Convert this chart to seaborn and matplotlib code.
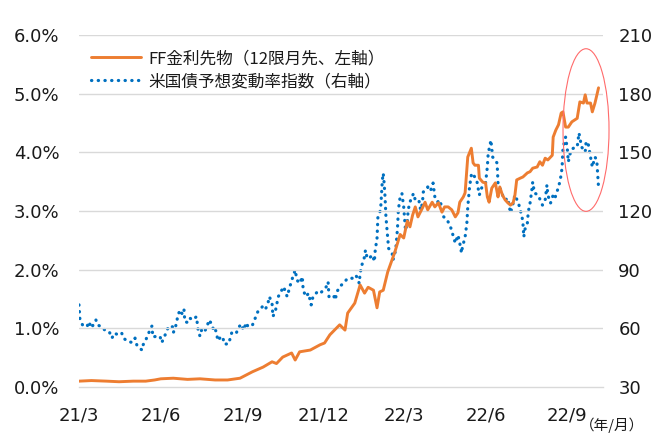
import pandas as pd
import matplotlib
matplotlib.use("Agg")
import matplotlib.pyplot as plt
from matplotlib.patches import Ellipse
from matplotlib.lines import Line2D
import seaborn as sns

# FF金利先物（12限月先） %, left axis
ff_dates = [
    "2021-03-01", "2021-03-15", "2021-04-01", "2021-04-15", "2021-05-01", "2021-05-15",
    "2021-05-25", "2021-06-01", "2021-06-15", "2021-07-01", "2021-07-15", "2021-08-01",
    "2021-08-15", "2021-08-29", "2021-09-12", "2021-09-24", "2021-10-04", "2021-10-09",
    "2021-10-16", "2021-10-26", "2021-10-30", "2021-11-04", "2021-11-16", "2021-11-27",
    "2021-12-02", "2021-12-08", "2021-12-19", "2021-12-25", "2021-12-28", "2022-01-05",
    "2022-01-11", "2022-01-16", "2022-01-20", "2022-01-26", "2022-01-30", "2022-02-02",
    "2022-02-06", "2022-02-11", "2022-02-19", "2022-02-25", "2022-03-01", "2022-03-05",
    "2022-03-08", "2022-03-11", "2022-03-14", "2022-03-17", "2022-03-22", "2022-03-25",
    "2022-03-28", "2022-04-02", "2022-04-05", "2022-04-09", "2022-04-13", "2022-04-16",
    "2022-04-20", "2022-04-24", "2022-04-28", "2022-05-01", "2022-05-03", "2022-05-07",
    "2022-05-09", "2022-05-12", "2022-05-16", "2022-05-18", "2022-05-20", "2022-05-24",
    "2022-05-25", "2022-05-29", "2022-06-01", "2022-06-03", "2022-06-05", "2022-06-08",
    "2022-06-12", "2022-06-14", "2022-06-15", "2022-06-17", "2022-06-20", "2022-06-23",
    "2022-06-26", "2022-06-29", "2022-07-02", "2022-07-04", "2022-07-06", "2022-07-10",
    "2022-07-13", "2022-07-18", "2022-07-21", "2022-07-24", "2022-07-29", "2022-08-01",
    "2022-08-04", "2022-08-07", "2022-08-10", "2022-08-15", "2022-08-16", "2022-08-19",
    "2022-08-22", "2022-08-25", "2022-08-27", "2022-08-30", "2022-09-02", "2022-09-06",
    "2022-09-12", "2022-09-15", "2022-09-19", "2022-09-21", "2022-09-23", "2022-09-27",
    "2022-09-29", "2022-10-02", "2022-10-06",
]
ff_values = [
    0.10, 0.11, 0.10, 0.09, 0.10, 0.10,
    0.12, 0.14, 0.15, 0.13, 0.14, 0.12,
    0.12, 0.15, 0.26, 0.34, 0.43, 0.40,
    0.51, 0.58, 0.46, 0.60, 0.63, 0.72,
    0.75, 0.89, 1.06, 0.97, 1.26, 1.43,
    1.74, 1.60, 1.70, 1.65, 1.35, 1.62,
    1.65, 1.96, 2.30, 2.60, 2.54, 2.83,
    2.73, 2.93, 3.07, 2.90, 3.05, 3.15,
    3.02, 3.15, 3.07, 3.14, 2.98, 3.07,
    3.07, 3.02, 2.90, 2.97, 3.15, 3.24,
    3.31, 3.92, 4.07, 3.82, 3.78, 3.78,
    3.56, 3.49, 3.48, 3.24, 3.15, 3.39,
    3.48, 3.32, 3.24, 3.41, 3.27, 3.19,
    3.14, 3.10, 3.14, 3.27, 3.53, 3.56,
    3.58, 3.65, 3.67, 3.73, 3.75, 3.84,
    3.78, 3.90, 3.87, 3.95, 4.26, 4.38,
    4.47, 4.67, 4.69, 4.43, 4.43, 4.52,
    4.58, 4.86, 4.84, 4.98, 4.84, 4.84,
    4.69, 4.84, 5.10,
]

# 米国債予想変動率指数 (MOVE), right axis
move_dates = [
    "2021-03-01", "2021-03-02", "2021-03-05", "2021-03-10", "2021-03-12", "2021-03-15",
    "2021-03-20", "2021-03-22", "2021-03-27", "2021-03-30", "2021-04-04", "2021-04-07",
    "2021-04-10", "2021-04-14", "2021-04-18", "2021-04-20", "2021-04-25", "2021-04-30",
    "2021-05-03", "2021-05-05", "2021-05-08", "2021-05-11", "2021-05-12", "2021-05-15",
    "2021-05-19", "2021-05-22", "2021-05-23", "2021-05-28", "2021-05-31", "2021-06-02",
    "2021-06-05", "2021-06-08", "2021-06-10", "2021-06-14", "2021-06-15", "2021-06-17",
    "2021-06-19", "2021-06-20", "2021-06-23", "2021-06-25", "2021-06-27", "2021-06-28",
    "2021-07-02", "2021-07-04", "2021-07-07", "2021-07-11", "2021-07-13", "2021-07-15",
    "2021-07-17", "2021-07-20", "2021-07-23", "2021-07-25", "2021-07-29", "2021-07-30",
    "2021-08-01", "2021-08-03", "2021-08-04", "2021-08-08", "2021-08-10", "2021-08-11",
    "2021-08-16", "2021-08-18", "2021-08-20", "2021-08-25", "2021-08-27", "2021-08-30",
    "2021-09-02", "2021-09-05", "2021-09-07", "2021-09-12", "2021-09-15", "2021-09-18",
    "2021-09-23", "2021-09-26", "2021-09-29", "2021-10-01", "2021-10-04", "2021-10-05",
    "2021-10-08", "2021-10-11", "2021-10-15", "2021-10-17", "2021-10-21", "2021-10-24",
    "2021-10-28", "2021-10-30", "2021-11-01", "2021-11-04", "2021-11-07", "2021-11-08",
    "2021-11-11", "2021-11-14", "2021-11-17", "2021-11-19", "2021-11-24", "2021-11-27",
    "2021-12-01", "2021-12-04", "2021-12-06", "2021-12-07", "2021-12-12", "2021-12-14",
    "2021-12-16", "2021-12-19", "2021-12-23", "2021-12-28", "2022-01-02", "2022-01-06",
    "2022-01-08", "2022-01-10", "2022-01-11", "2022-01-13", "2022-01-16", "2022-01-17",
    "2022-01-19", "2022-01-21", "2022-01-25", "2022-01-27", "2022-01-28", "2022-01-30",
    "2022-01-31", "2022-02-03", "2022-02-05", "2022-02-06", "2022-02-07", "2022-02-08",
    "2022-02-09", "2022-02-11", "2022-02-12", "2022-02-16", "2022-02-17", "2022-02-20",
    "2022-02-22", "2022-02-23", "2022-02-25", "2022-02-27", "2022-03-01", "2022-03-03",
    "2022-03-05", "2022-03-06", "2022-03-08", "2022-03-12", "2022-03-14", "2022-03-18",
    "2022-03-20", "2022-03-22", "2022-03-23", "2022-03-28", "2022-03-31", "2022-04-03",
    "2022-04-05", "2022-04-08", "2022-04-11", "2022-04-13", "2022-04-15", "2022-04-19",
    "2022-04-23", "2022-04-26", "2022-04-28", "2022-05-01", "2022-05-03", "2022-05-05",
    "2022-05-06", "2022-05-09", "2022-05-11", "2022-05-12", "2022-05-14", "2022-05-16",
    "2022-05-17", "2022-05-22", "2022-05-25", "2022-05-28", "2022-06-01", "2022-06-03",
    "2022-06-04", "2022-06-06", "2022-06-07", "2022-06-09", "2022-06-14", "2022-06-15",
    "2022-06-20", "2022-06-23", "2022-06-26", "2022-06-29", "2022-07-01", "2022-07-04",
    "2022-07-08", "2022-07-12", "2022-07-13", "2022-07-14", "2022-07-15", "2022-07-18",
    "2022-07-19", "2022-07-21", "2022-07-23", "2022-07-24", "2022-07-26", "2022-07-30",
    "2022-08-04", "2022-08-07", "2022-08-09", "2022-08-10", "2022-08-13", "2022-08-16",
    "2022-08-18", "2022-08-22", "2022-08-24", "2022-08-26", "2022-08-27", "2022-08-30",
    "2022-09-01", "2022-09-02", "2022-09-05", "2022-09-08", "2022-09-12", "2022-09-13",
    "2022-09-14", "2022-09-17", "2022-09-21", "2022-09-22", "2022-09-24", "2022-09-27",
    "2022-09-29", "2022-10-02", "2022-10-04", "2022-10-06",
]
move_values = [
    72.0, 65.0, 61.7, 60.8, 63.4, 60.2,
    64.3, 61.7, 60.7, 59.1, 58.3, 55.0,
    57.6, 56.6, 57.6, 55.0, 53.2, 52.8,
    55.0, 51.5, 49.8, 48.9, 51.5, 54.0,
    58.3, 61.2, 55.6, 56.0, 56.0, 52.7,
    55.7, 59.1, 61.2, 60.8, 57.8, 60.0,
    63.4, 66.8, 69.4, 67.3, 69.7, 63.4,
    62.9, 65.1, 64.3, 66.0, 58.8, 56.0,
    59.5, 58.3, 60.8, 64.3, 61.7, 59.1,
    60.0, 56.6, 53.7, 56.0, 54.9, 52.0,
    52.0, 54.9, 58.3, 57.8, 60.0, 62.2,
    59.1, 62.9, 60.8, 61.7, 65.1, 68.5,
    71.0, 69.4, 72.0, 76.2, 72.8, 66.0,
    69.4, 76.2, 79.6, 81.3, 76.2, 81.3,
    87.3, 89.8, 84.7, 83.0, 86.4, 79.6,
    76.2, 77.9, 72.0, 76.2, 78.7, 77.9,
    79.6, 81.3, 83.8, 76.2, 77.0, 74.5,
    78.7, 81.3, 83.0, 85.6, 85.6, 87.3,
    85.6, 83.0, 88.1, 92.4, 96.6, 100.0,
    95.8, 95.8, 97.5, 94.1, 100.0, 106.0,
    117.1, 120.5, 135.9, 139.3, 134.2, 127.3,
    117.1, 106.0, 100.9, 98.4, 95.0, 100.0,
    111.1, 120.5, 127.3, 129.0, 122.0, 110.0,
    114.0, 120.5, 124.6, 129.0, 125.6, 125.6,
    120.5, 124.0, 129.7, 132.3, 130.2, 134.3,
    127.2, 124.6, 125.6, 120.5, 117.0, 115.4,
    111.3, 106.7, 103.6, 107.7, 103.6, 98.5,
    101.6, 106.7, 113.9, 122.0, 132.3, 138.4,
    139.4, 135.9, 128.2, 132.3, 134.3, 142.5,
    149.7, 153.7, 156.3, 147.6, 144.5, 134.3,
    128.2, 125.6, 126.6, 119.0, 122.0, 128.2,
    124.0, 117.0, 113.9, 106.7, 110.3, 113.9,
    119.5, 124.0, 130.7, 134.8, 129.2, 128.2,
    123.0, 125.6, 133.3, 128.2, 124.0, 128.2,
    126.6, 132.3, 135.9, 142.0, 152.2, 157.8,
    151.2, 145.1, 151.2, 152.2, 152.7, 156.3,
    159.9, 152.7, 150.2, 155.3, 155.3, 147.6,
    142.5, 147.6, 146.0, 132.0,
]

tick_dates = ["2021-03-01", "2021-06-01", "2021-09-01", "2021-12-01",
              "2022-03-01", "2022-06-01", "2022-09-01"]
tick_labels = ["21/3", "21/6", "21/9", "21/12", "22/3", "22/6", "22/9"]

ff = pd.DataFrame({"date": pd.to_datetime(ff_dates), "value": ff_values})
move = pd.DataFrame({"date": pd.to_datetime(move_dates), "value": move_values})

sns.set_style("white")
plt.rcParams["font.family"] = ["DejaVu Sans", "Noto Sans CJK JP"]

orange = "#ED7D31"
blue = "#0070C0"
grid_c = "#D9D9D9"
text_c = "#1a1a1a"
dotted = (0, (0.1, 2.0))

fig = plt.figure(figsize=(6.55, 4.38), dpi=100)
ax = fig.add_axes([0.1206, 0.1164, 0.8, 0.8037])
ax2 = ax.twinx()

sns.lineplot(data=move, x="date", y="value", ax=ax2, color=blue, linewidth=2.3,
             linestyle=dotted, dash_capstyle="round")
sns.lineplot(data=ff, x="date", y="value", ax=ax, color=orange, linewidth=2.1)

# orange drawn above the blue dots
ax.set_zorder(ax2.get_zorder() + 1)
ax.patch.set_visible(False)

ax.set_xlim(pd.Timestamp("2021-03-01"), pd.Timestamp("2022-10-11"))
ax.set_ylim(0, 6)
ax2.set_ylim(30, 210)
ax.set_yticks([0, 1, 2, 3, 4, 5, 6])
ax.set_yticklabels([f"{v:.1f}%" for v in range(7)])
ax2.set_yticks([30, 60, 90, 120, 150, 180, 210])
ax.set_xticks(pd.to_datetime(tick_dates))
ax.set_xticklabels(tick_labels)
ax.set_xlabel("")
ax.set_ylabel("")
ax2.set_ylabel("")

ax2.grid(False)
ax.grid(False)
for v in range(1, 7):
    ax.axhline(v, color=grid_c, linewidth=1.0, zorder=0)
for a in (ax, ax2):
    for s in a.spines.values():
        s.set_visible(False)
ax.spines["bottom"].set_visible(True)
ax.spines["bottom"].set_color(grid_c)
ax.spines["bottom"].set_linewidth(1.0)

ax.tick_params(axis="x", length=5, width=1.0, color=grid_c, pad=9,
               labelsize=13, labelcolor=text_c)
ax.tick_params(axis="y", length=0, pad=14, labelsize=13, labelcolor=text_c)
ax2.tick_params(axis="y", length=0, pad=11, labelsize=13, labelcolor=text_c)

# red ellipse around the latest moves
ell = Ellipse((0.9676, 0.730), 0.0878, 0.462, transform=ax.transAxes,
              fill=False, edgecolor="#FF6B6B", linewidth=0.8, clip_on=False, zorder=10)
ax.add_patch(ell)

handles = [
    Line2D([0], [0], color=orange, linewidth=2.1),
    Line2D([0], [0], color=blue, linewidth=2.3, linestyle=dotted,
           dash_capstyle="round"),
]
labels = ["FF金利先物（12限月先、左軸）", "米国債予想変動率指数（右軸）"]
leg = ax.legend(handles, labels, loc="upper left", bbox_to_anchor=(0.0, 0.99),
                frameon=False, handlelength=3.0, handletextpad=0.45,
                labelspacing=0.35, borderaxespad=0.3,
                prop={"family": ["Noto Sans CJK JP", "DejaVu Sans"], "size": 12})
for t in leg.get_texts():
    t.set_color(text_c)

fig.text(0.983, 0.012, "（年/月）", ha="right", va="bottom", fontsize=10.5,
         color=text_c, family=["Noto Sans CJK JP", "DejaVu Sans"])

fig.savefig("out.png", dpi=100)
